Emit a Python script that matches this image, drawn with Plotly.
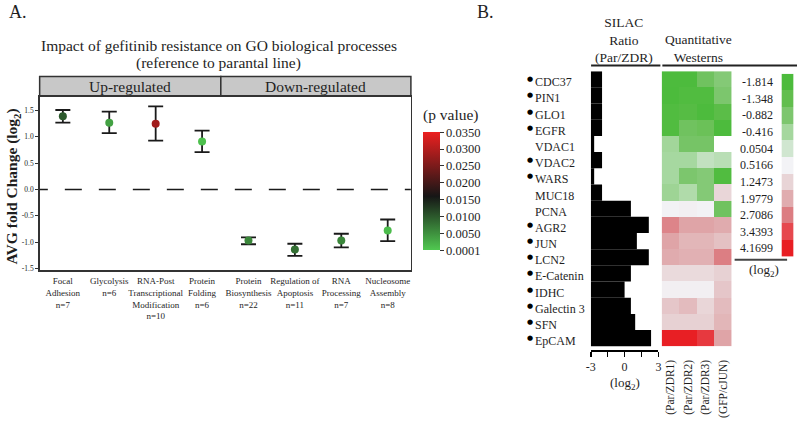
import plotly.graph_objects as go

W, H = 800, 421
def px(x):
    return x / W
def py(y):
    return 1 - y / H

FONT = "Liberation Serif"
TXT = "#1e1e1e"

# ---------------- Panel A data ----------------
processes = ["Focal<br>Adhesion<br>n=7", "Glycolysis<br>n=6",
             "RNA-Post<br>Transcriptional<br>Modification<br>n=10",
             "Protein<br>Folding<br>n=6", "Protein<br>Biosynthesis<br>n=22",
             "Regulation of<br>Apoptosis<br>n=11", "RNA<br>Processing<br>n=7",
             "Nucleosome<br>Assembly<br>n=8"]
avg_fold = [1.39, 1.27, 1.25, 0.91, -0.97, -1.14, -0.97, -0.78]
ci_upper = [1.51, 1.48, 1.58, 1.12, -0.91, -1.03, -0.84, -0.57]
ci_lower = [1.27, 1.07, 0.93, 0.71, -1.04, -1.26, -1.10, -0.98]
p_values = [0.0100, 0.0036, 0.0283, 0.0008, 0.0060, 0.0080, 0.0060, 0.0012]
pval_ticks = [0.0001, 0.0050, 0.0100, 0.0150, 0.0200, 0.0250, 0.0300, 0.0350]
groups = ["Up-regulated", "Down-regulated"]
y_ticks_a = [-1.5, -1.0, -0.5, 0.0, 0.5, 1.0, 1.5]

# ---------------- Panel B data ----------------
genes = ["CDC37", "PIN1", "GLO1", "EGFR", "VDAC1", "VDAC2", "WARS", "MUC18",
         "PCNA", "AGR2", "JUN", "LCN2", "E-Catenin", "IDHC", "Galectin 3",
         "SFN", "EpCAM"]
bulleted = [True, True, True, True, False, True, True, False, False,
            True, True, True, True, True, True, True, True]
silac_ratio = [-2.0, -2.0, -2.0, -2.0, -2.7, -2.0, -2.7, -2.0, 0.56,
               2.15, 1.09, 2.15, 0.56, 0.0, 0.56, 0.94, 2.35]
western_cols = ["(Par/ZDR1)", "(Par/ZDR2)", "(Par/ZDR3)", "(GFP/cJUN)"]
western_vals = [
    [-1.8, -1.8, -1.1, -0.8],
    [-1.9, -1.7, -1.7, -0.9],
    [-1.7, -1.6, -1.8, -1.5],
    [-1.7, -1.1, -1.2, -1.8],
    [-0.45, -1.0, -1.0, None],
    [-0.4, -0.4, -0.1, -0.2],
    [-0.4, -0.9, -0.8, -1.7],
    [-0.5, -0.3, -0.8, 1.2],
    [0.55, 0.6, 0.55, -1.1],
    [2.6, 2.1, 2.1, 2.0],
    [2.1, 1.8, 1.8, 1.6],
    [2.0, 1.9, 1.9, 2.7],
    [1.1, 1.1, 1.1, 1.3],
    [0.6, 0.6, 0.6, 1.5],
    [1.5, 1.7, 1.2, 1.7],
    [1.3, 1.3, 1.3, 1.8],
    [4.15, 4.15, 3.7, 2.1],
]
legend_vals = [-1.814, -1.348, -0.882, -0.416, 0.0504, 0.5166, 1.2473,
               1.9779, 2.7086, 3.4393, 4.1699]
legend_labels = ["-1.814", "-1.348", "-0.882", "-0.416", "0.0504", "0.5166",
                 "1.2473", "1.9779", "2.7086", "3.4393", "4.1699"]
silac_label_ticks = [-3, 0, 3]
silac_minor_ticks = [-1.5, 1.5]

# styles
legend_colors = ["rgb(76,187,60)", "rgb(98,190,78)", "rgb(125,198,110)",
                 "rgb(165,215,158)", "rgb(208,230,208)", "rgb(243,243,246)",
                 "rgb(232,212,214)", "rgb(224,172,175)", "rgb(220,125,130)",
                 "rgb(230,72,78)", "rgb(232,30,35)"]
vmin, vmax = legend_vals[0], legend_vals[-1]
heat_scale = [[(v - vmin) / (vmax - vmin), c] for v, c in zip(legend_vals, legend_colors)]
p_scale = [[0.0, "rgb(80,200,80)"], [0.455, "rgb(22,22,22)"], [1.0, "rgb(236,32,32)"]]

fig = go.Figure()

# ---- Panel A scatter with error bars ----
xs = list(range(len(avg_fold)))
fig.add_trace(go.Scatter(
    x=xs, y=avg_fold, mode="markers", xaxis="x", yaxis="y",
    marker=dict(size=8, color=p_values, colorscale=p_scale, cmin=pval_ticks[0],
                cmax=pval_ticks[-1], showscale=True,
                colorbar=dict(x=px(422.7), xanchor="left", xpad=0, ypad=0,
                              y=py(192.5), yanchor="middle", len=119 / H,
                              lenmode="fraction", thickness=16.5,
                              thicknessmode="pixels", outlinewidth=0,
                              tickvals=pval_ticks,
                              ticktext=[f"{v:.4f}" for v in pval_ticks],
                              ticks="outside", ticklen=4, tickcolor="#333",
                              tickfont=dict(family=FONT, size=12.5, color=TXT))),
    error_y=dict(type="data", symmetric=False,
                 array=[u - m for u, m in zip(ci_upper, avg_fold)],
                 arrayminus=[m - l for m, l in zip(avg_fold, ci_lower)],
                 color="#1a1a1a", thickness=1.8, width=7.5),
    showlegend=False, hoverinfo="skip"))

# ---- Panel B SILAC bars ----
rows = list(range(len(genes)))
fig.add_trace(go.Bar(
    y=rows, x=[v - silac_label_ticks[0] for v in silac_ratio], base=silac_label_ticks[0],
    orientation="h", width=1.0, marker=dict(color="black", line=dict(width=0)),
    xaxis="x2", yaxis="y2", showlegend=False, hoverinfo="skip"))

# ---- Panel B heatmap ----
fig.add_trace(go.Heatmap(
    z=western_vals, x=list(range(len(western_cols))), y=rows,
    colorscale=heat_scale, zmin=vmin, zmax=vmax, showscale=False,
    xaxis="x3", yaxis="y3", hoverinfo="skip"))

# ---- Panel B legend swatches ----
fig.add_trace(go.Heatmap(
    z=[[v] for v in legend_vals], x0=0, dx=1, y=list(range(len(legend_vals))),
    colorscale=heat_scale, zmin=vmin, zmax=vmax, showscale=False,
    xaxis="x4", yaxis="y4", hoverinfo="skip"))

fig.update_layout(
    width=W, height=H, autosize=False,
    margin=dict(l=0, r=0, t=0, b=0),
    paper_bgcolor="white", plot_bgcolor="white",
    font=dict(family=FONT, color=TXT),
    xaxis=dict(domain=[px(35), px(410)], range=[-0.5, len(xs) - 0.5],
               tickvals=xs, ticktext=processes, ticks="", tickangle=0,
               tickfont=dict(family=FONT, size=9, color=TXT),
               showline=True, mirror=True, linecolor="#333", linewidth=1.5,
               showgrid=False, zeroline=False, ticklabelstandoff=2),
    yaxis=dict(domain=[py(272), py(97)], range=[-1.53, 1.77],
               tickvals=y_ticks_a, ticktext=[f"{v:.1f}" for v in y_ticks_a],
               ticks="outside", ticklen=3, tickcolor="#333",
               tickfont=dict(family=FONT, size=7.5, color=TXT),
               showline=True, mirror=True, linecolor="#333", linewidth=1.5,
               showgrid=False, zeroline=False),
    xaxis2=dict(domain=[px(591.7), px(660)], range=[-3, 3], anchor="y2",
                tickvals=silac_label_ticks,
                ticktext=[str(v) for v in silac_label_ticks],
                ticks="outside", ticklen=5, tickcolor="black", tickwidth=1.5,
                minor=dict(tickvals=silac_minor_ticks, ticks="outside", ticklen=5,
                           tickcolor="black", tickwidth=1.5, showgrid=False),
                tickfont=dict(family=FONT, size=12, color=TXT),
                showline=True, linecolor="black", linewidth=1.5,
                showgrid=False, zeroline=False),
    yaxis2=dict(domain=[py(353), py(71.7)], range=[16.76, -0.5], anchor="x2",
                visible=False),
    xaxis3=dict(domain=[px(663.3), px(734)], range=[-0.5, 3.5], anchor="y3",
                tickvals=list(range(len(western_cols))), ticktext=western_cols,
                tickangle=-90, ticks="", ticklabelstandoff=10,
                tickfont=dict(family=FONT, size=11.5, color=TXT),
                showline=False, showgrid=False, zeroline=False),
    yaxis3=dict(domain=[py(349), py(71.7)], range=[16.5, -0.5], anchor="x3",
                visible=False),
    xaxis4=dict(domain=[px(784.3), px(796.7)], range=[-0.5, 0.5], anchor="y4",
                visible=False),
    yaxis4=dict(domain=[py(258.3), py(74.3)], range=[10.5, -0.5], anchor="x4",
                tickvals=list(range(len(legend_vals))), ticktext=legend_labels,
                ticks="outside", ticklen=5, tickcolor="rgba(0,0,0,0)",
                tickfont=dict(family=FONT, size=12, color=TXT),
                showline=False, showgrid=False, zeroline=False),
)

shapes = []
# strip headers
shapes.append(dict(type="rect", xref="paper", yref="paper", x0=px(35), x1=px(218),
                   y0=py(97), y1=py(77), fillcolor="rgb(200,200,200)",
                   line=dict(color="#333", width=1.5), layer="below"))
shapes.append(dict(type="rect", xref="paper", yref="paper", x0=px(218), x1=px(410),
                   y0=py(97), y1=py(77), fillcolor="rgb(200,200,200)",
                   line=dict(color="#333", width=1.5), layer="below"))
# dashed zero line
shapes.append(dict(type="line", xref="x", yref="y", x0=-0.69, x1=len(xs) - 0.5,
                   y0=0, y1=0, line=dict(color="#1a1a1a", width=1.5, dash="17px,17px")))
# header underlines panel B
shapes.append(dict(type="line", xref="paper", yref="paper", x0=px(592), x1=px(662),
                   y0=py(66), y1=py(66), line=dict(color="#222", width=2)))
shapes.append(dict(type="line", xref="paper", yref="paper", x0=px(664), x1=px(800),
                   y0=py(66), y1=py(66), line=dict(color="#222", width=2)))
# legend underline
shapes.append(dict(type="line", xref="paper", yref="paper", x0=px(737), x1=px(790),
                   y0=py(261.7), y1=py(261.7), line=dict(color="#444", width=2)))
fig.update_layout(shapes=shapes)

ann = []
def A(text, x, y, size, **kw):
    d = dict(text=text, x=px(x), y=py(y), xref="paper", yref="paper",
             showarrow=False, font=dict(family=FONT, size=size, color=TXT),
             xanchor="center", yanchor="middle")
    d.update(kw)
    ann.append(d)

A("A.", 13, 11.7, 18)
A("B.", 485, 11.7, 18)
A("Impact of gefitinib resistance on GO biological processes", 216, 45.7, 15.5)
A("(reference to parantal line)", 216, 63.3, 15.5)
A(groups[0], 126.5, 87, 15.5)
A(groups[1], 314, 87, 15.5)
A("<b>AVG fold Change (log<sub>2</sub>)</b>", 8, 188, 15.5, textangle=-90)
A("(p value)", 420.7, 115.7, 15.5, xanchor="left")
A("SILAC<br>Ratio<br>(Par/ZDR)", 625, 40.5, 13.5)
A("Quantitative<br>Westerns", 700, 49, 13.5)
A("(log<sub>2</sub>)", 626.7, 386, 13)
A("(log<sub>2</sub>)", 766.7, 272.5, 13)

for i, (g, b) in enumerate(zip(genes, bulleted)):
    ann.append(dict(text=g, x=px(533), y=i, xref="paper", yref="y2",
                    showarrow=False, xanchor="left", yanchor="middle", yshift=-3,
                    font=dict(family=FONT, size=12, color=TXT)))
    if b:
        ann.append(dict(text="●", x=px(530.5), y=i, xref="paper", yref="y2",
                        showarrow=False, xanchor="center", yanchor="middle",
                        yshift=0, font=dict(family="DejaVu Sans", size=7, color="black")))

fig.update_layout(annotations=ann)

fig.write_html("out.html", config={"displayModeBar": False, "staticPlot": True},
               post_script="document.body.style.margin='0';document.body.style.padding='0';"
                           "document.documentElement.style.overflow='hidden';")
